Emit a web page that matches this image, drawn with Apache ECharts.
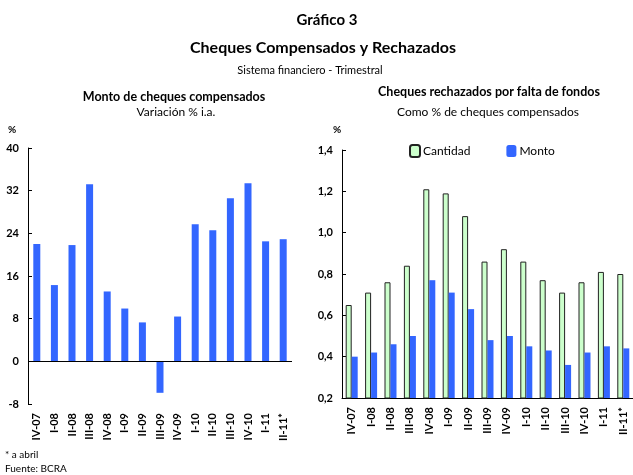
<!DOCTYPE html>
<html>
<head>
<meta charset="utf-8">
<script src="https://cdn.jsdelivr.net/npm/echarts@6/dist/echarts.min.js"></script>
<style>
html,body{margin:0;padding:0;background:#fff;}
#c{width:633px;height:475px;}
</style>
</head>
<body>
<div id="c"></div>
<script>
var categories = ['IV-07','I-08','II-08','III-08','IV-08','I-09','II-09','III-09','IV-09','I-10','II-10','III-10','IV-10','I-11','II-11*'];
var montoVariacion = [22.0, 14.3, 21.8, 33.2, 13.1, 9.9, 7.3, -5.9, 8.4, 25.7, 24.6, 30.6, 33.4, 22.5, 22.9];
var rechazadosCantidad = [0.65, 0.71, 0.76, 0.84, 1.21, 1.19, 1.08, 0.86, 0.92, 0.86, 0.77, 0.71, 0.76, 0.81, 0.80];
var rechazadosMonto = [0.40, 0.42, 0.46, 0.50, 0.77, 0.71, 0.63, 0.48, 0.50, 0.45, 0.43, 0.36, 0.42, 0.45, 0.44];
var leftTicks = {min: -8, max: 40, interval: 8};
var rightTicks = {min: 0.2, max: 1.4, interval: 0.2};

var FONT = 'Lato';
var chart = echarts.init(document.getElementById('c'), null, {renderer: 'canvas'});

function t(x, y, s, font, align) {
  return {type: 'text', x: x, y: y, silent: true,
    style: {text: s, font: font + ' ' + FONT, fill: '#000', align: align || 'center', verticalAlign: 'middle'}};
}

var option = {
  animation: false,
  backgroundColor: '#fff',
  textStyle: {fontFamily: FONT},
  graphic: [
    t(327, 20, 'Gráfico 3', 'bold 15px'),
    t(323, 48, 'Cheques Compensados y Rechazados', 'bold 16px'),
    t(310, 70, 'Sistema financiero - Trimestral', '11px'),
    t(174, 97, 'Monto de cheques compensados', 'bold 12.5px'),
    t(176, 112, 'Variación % i.a.', '12px'),
    t(489, 92, 'Cheques rechazados por falta de fondos', 'bold 12.5px'),
    t(488, 112, 'Como % de cheques compensados', '12px'),
    t(12, 130, '%', 'bold 10px'),
    t(337, 130, '%', 'bold 10px'),
    t(5, 455, '* a abril', '10px', 'left'),
    t(5, 469, 'Fuente: BCRA', '10px', 'left')
  ],
  legend: {
    left: 404, top: 139,
    itemWidth: 10, itemHeight: 12, itemGap: 36,
    textStyle: {fontSize: 12, fontFamily: FONT, color: '#000', padding: [0, 0, 0, -2]},
    data: ['Cantidad', 'Monto']
  },
  grid: [
    {left: 28, top: 148, width: 264, height: 256},
    {left: 342, top: 150, width: 297, height: 248}
  ],
  xAxis: [
    {type: 'category', gridIndex: 0, data: categories, position: 'bottom',
     axisLine: {show: false}, axisTick: {show: false},
     axisLabel: {rotate: 90, interval: 0, margin: 9, fontSize: 11, fontWeight: 'bold', color: '#000', fontFamily: FONT}},
    {type: 'category', gridIndex: 1, data: categories, position: 'bottom',
     axisLine: {show: true, lineStyle: {color: '#000', width: 1}}, axisTick: {show: false},
     axisLabel: {rotate: 90, interval: 0, margin: 9, fontSize: 11, fontWeight: 'bold', color: '#000', fontFamily: FONT}}
  ],
  yAxis: [
    {type: 'value', gridIndex: 0, min: leftTicks.min, max: leftTicks.max, interval: leftTicks.interval,
     axisLine: {show: true, lineStyle: {color: '#000'}},
     axisTick: {show: true, inside: true, length: 4, lineStyle: {color: '#000'}},
     splitLine: {show: false},
     axisLabel: {margin: 9, fontSize: 11, fontWeight: 'bold', color: '#000', fontFamily: FONT}},
    {type: 'value', gridIndex: 1, min: rightTicks.min, max: rightTicks.max, interval: rightTicks.interval,
     axisLine: {show: true, lineStyle: {color: '#000'}},
     axisTick: {show: true, inside: true, length: 4, lineStyle: {color: '#000'}},
     splitLine: {show: false},
     axisLabel: {margin: 9, fontSize: 11, fontWeight: 'bold', color: '#000', fontFamily: FONT,
       formatter: function (v) { return v.toFixed(1).replace('.', ','); }}}
  ],
  series: [
    {name: 'Variación', type: 'bar', xAxisIndex: 0, yAxisIndex: 0, data: montoVariacion, barWidth: 7,
     itemStyle: {color: '#3366FF'},
     markLine: {silent: true, symbol: ['none', 'none'], label: {show: false},
       lineStyle: {color: '#000', width: 1, type: 'solid'}, data: [{yAxis: 0}]}},
    {name: 'Cantidad', type: 'bar', xAxisIndex: 1, yAxisIndex: 1, data: rechazadosCantidad, barWidth: 6, barGap: '0%',
     itemStyle: {color: '#CCFFCC', borderColor: '#222', borderWidth: 1}},
    {name: 'Monto', type: 'bar', xAxisIndex: 1, yAxisIndex: 1, data: rechazadosMonto, barWidth: 6, barGap: '0%',
     itemStyle: {color: '#3366FF'}}
  ]
};
chart.setOption(option);
</script>
</body>
</html>
